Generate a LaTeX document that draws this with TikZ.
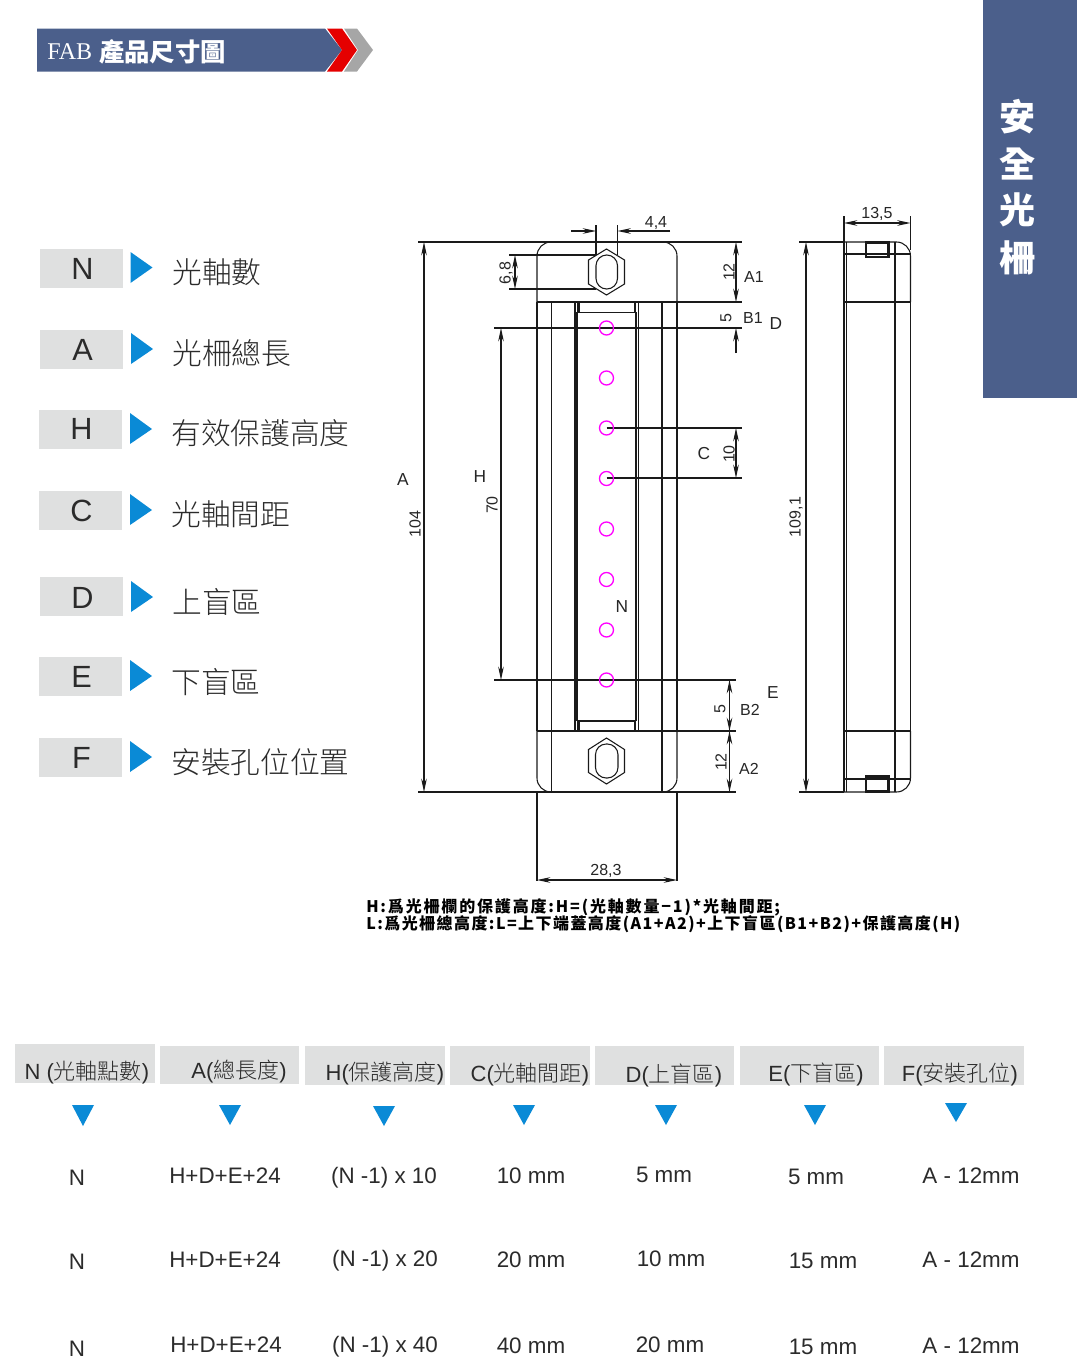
\documentclass[tikz,border=0pt]{standalone}
\usepackage{fontspec}
\usepackage[HTML]{xcolor}
\usetikzlibrary{arrows.meta}
\setmainfont{Liberation Sans}
\newfontfamily\cjk{Noto Sans CJK TC}
\newfontfamily\cjklight{Noto Sans CJK TC Light}
\newfontfamily\notefont[LetterSpace=9]{Noto Sans CJK TC}
\newfontfamily\banserif{Liberation Serif}
\definecolor{banblue}{HTML}{4B5F8B}
\definecolor{tipblue}{HTML}{0A8AD6}
\definecolor{boxgrey}{HTML}{DFE0E0}
\definecolor{inktext}{HTML}{2B2B2B}

\tikzset{
  part/.style={draw=black!90, line width=0.8pt},
  thickpart/.style={draw=black!90, line width=1.8pt},
  extline/.style={draw=black!90, line width=0.8pt},
  dimboth/.style={draw=black!90, line width=0.8pt, {Stealth[length=10pt,width=4.2pt]}-{Stealth[length=10pt,width=4.2pt]}},
  dimend/.style={draw=black!90, line width=0.8pt, -{Stealth[length=10pt,width=4.2pt]}},
  beam/.style={draw=magenta, line width=1pt},
  dimtext/.style={font=\fontsize{12}{12}\selectfont, inner sep=0pt, yshift=-0.75pt, text=black!85},
  dimletter/.style={font=\fontsize{13}{13}\selectfont, inner sep=0pt, yshift=-0.75pt, text=black!85},
  keybox/.style={fill=boxgrey},
  keyletter/.style={font=\fontsize{23}{23}\selectfont, inner sep=0pt, yshift=-0.75pt, text=inktext},
  keytext/.style={font=\cjklight\fontsize{22.3}{22.3}\selectfont, anchor=west, inner sep=0pt, yshift=-0.75pt, text=inktext},
  headtext/.style={font=\fontsize{16.5}{16.5}\selectfont, inner sep=0pt, yshift=-1.2pt, text=inktext},
  celltext/.style={font=\fontsize{16.8}{16.8}\selectfont, inner sep=0pt, yshift=-0.75pt, text=inktext},
  tip/.style={fill=tipblue},
  notetext/.style={font=\notefont\bfseries\fontsize{12}{12}\selectfont, anchor=west, inner sep=0pt, text=black}
}

\begin{document}
\begin{tikzpicture}[x=0.75pt, y=-0.75pt]
\useasboundingbox (0,0) rectangle (1077,1368);

\fill[banblue] (37,28.5)--(325,28.5)--(342,50)--(325,71.5)--(37,71.5)--cycle;
\fill[red!90!black] (327,28.5)--(342,28.5)--(357,50)--(342,71.5)--(327,71.5)--(342,50)--cycle;
\fill[black!35] (344,28.5)--(357,28.5)--(373,50)--(357,71.5)--(344,71.5)--(358,50)--cycle;
\node[anchor=west, inner sep=0pt, text=white, font=\banserif\fontsize{18}{18}\selectfont] (Fab) at (47,51.5) {FAB};
\node[anchor=west, inner sep=0pt, text=white, font=\cjk\bfseries\fontsize{19}{19}\selectfont] (Title) at (99,51.5) {產品尺寸圖};

\fill[banblue] (983,0) rectangle (1077,398);
\node[inner sep=0pt, text=white, font=\cjk\bfseries\fontsize{27}{27}\selectfont] (S1) at (1017,117) {安};
\node[inner sep=0pt, text=white, font=\cjk\bfseries\fontsize{27}{27}\selectfont] (S2) at (1017,164) {全};
\node[inner sep=0pt, text=white, font=\cjk\bfseries\fontsize{27}{27}\selectfont] (S3) at (1017,210) {光};
\node[inner sep=0pt, text=white, font=\cjk\bfseries\fontsize{27}{27}\selectfont] (S4) at (1017,258) {柵};

\fill[keybox] (40,249) rectangle (123,288);
\fill[tip] (130.5,252)--(152.5,267.5)--(130.5,283)--cycle;
\node[keyletter] (KN) at (82.5,268) {N};
\node[keytext] (TN) at (172,271) {光軸數};
\fill[keybox] (40,330) rectangle (123,369);
\fill[tip] (131,333)--(153,349)--(131,364)--cycle;
\node[keyletter] (KA) at (82.5,348.5) {A};
\node[keytext] (TA) at (172,352) {光柵總長};
\fill[keybox] (39,410) rectangle (122,449);
\fill[tip] (130,413)--(152,429)--(130,444)--cycle;
\node[keyletter] (KH) at (81.5,428) {H};
\node[keytext] (TH) at (171,432) {有效保護高度};
\fill[keybox] (39,491) rectangle (122,530);
\fill[tip] (130,494)--(152,510)--(130,525)--cycle;
\node[keyletter] (KC) at (81.5,509.5) {C};
\node[keytext] (TC) at (171,513) {光軸間距};
\fill[keybox] (40,577) rectangle (123,616);
\fill[tip] (131,581)--(153,597)--(131,612)--cycle;
\node[keyletter] (KD) at (82.5,597) {D};
\node[keytext] (TD) at (172,601) {上盲區};
\fill[keybox] (39,657) rectangle (122,696);
\fill[tip] (130,660)--(152,676)--(130,691)--cycle;
\node[keyletter] (KE) at (81.5,675.5) {E};
\node[keytext] (TE) at (171,681) {下盲區};
\fill[keybox] (39,738) rectangle (122,777);
\fill[tip] (130,741)--(152,757)--(130,772)--cycle;
\node[keyletter] (KF) at (81.5,756.5) {F};
\node[keytext] (TF) at (171,761) {安裝孔位位置};

\draw[part, rounded corners=10.5pt] (537,302)--(537,242)--(677,242)--(677,302);
\draw[part, rounded corners=10.5pt] (537,731)--(537,792)--(677,792)--(677,731);
\draw[part] (537,302)--(537,731);
\draw[part] (677,302)--(677,731);
\draw[part] (537,302)--(677,302);
\draw[part] (537,731)--(677,731);
\draw[part] (551.5,302)--(551.5,792);
\draw[part] (662,302)--(662,792);
\draw[part] (575,302)--(575,731);
\draw[part] (577,312)--(577,721);
\draw[part] (636,312)--(636,721);
\draw[part] (638.5,302)--(638.5,731);
\draw[thickpart] (578.5,302)--(578.5,312);
\draw[thickpart] (635,302)--(635,312);
\draw[part] (577,312.5)--(636,312.5);
\draw[thickpart] (578.5,721)--(578.5,731);
\draw[thickpart] (635,721)--(635,731);
\draw[part] (577,721)--(636,721);

\draw[part] (606.5,249)--(624.5,260)--(624.5,284)--(606.5,295)--(588.5,284)--(588.5,260)--cycle;
\draw[part, rounded corners=8pt] (596,255) rectangle (617.5,289);
\draw[part] (606.5,738)--(624.5,749.5)--(624.5,772.5)--(606.5,784)--(588.5,772.5)--(588.5,749.5)--cycle;
\draw[part, rounded corners=8pt] (595.5,744) rectangle (618,778);

\draw[extline] (418,242)--(742,242);
\draw[extline] (418,792)--(736,792);
\draw[extline] (537,302)--(742,302);
\draw[extline] (494,328)--(742,328);
\draw[extline] (494,680)--(736,680);
\draw[extline] (606.5,428)--(742,428);
\draw[extline] (606.5,478)--(742,478);
\draw[extline] (537,731)--(736,731);
\draw[extline] (509,255)--(596,255);
\draw[extline] (509,289)--(596,289);
\draw[extline] (596,225)--(596,255);
\draw[extline] (617.5,225)--(617.5,255);
\draw[extline] (537,792)--(537,881);
\draw[extline] (677,792)--(677,881);

\draw[dimend] (571,231)--(596,231);
\draw[dimend] (670,231)--(617.5,231);
\draw[dimboth] (424,242)--(424,792);
\draw[dimboth] (515,255)--(515,289);
\draw[dimboth] (736,242)--(736,302);
\draw[dimend] (736,353)--(736,328);
\draw[dimboth] (501,328)--(501,680);
\draw[dimboth] (736,428)--(736,478);
\draw[dimboth] (729.5,680)--(729.5,731);
\draw[dimboth] (729.5,731)--(729.5,792);
\draw[dimboth] (537,880)--(677,880);

\draw[beam] (606.5,328) circle[radius=7];
\draw[beam] (606.5,378) circle[radius=7];
\draw[beam] (606.5,428) circle[radius=7];
\draw[beam] (606.5,478.5) circle[radius=7];
\draw[beam] (606.5,529) circle[radius=7];
\draw[beam] (606.5,579.5) circle[radius=7];
\draw[beam] (606.5,630) circle[radius=7];
\draw[beam] (606.5,680) circle[radius=7];

\node[dimtext] (L44) at (656,222) {4,4};
\node[dimtext, rotate=90] (L68) at (506,272) {6,8};
\node[dimtext, rotate=90] (L12a) at (729,271) {12};
\node[dimtext] (LA1) at (754,276) {A1};
\node[dimtext, rotate=90] (L5a) at (726,317) {5};
\node[dimtext] (LB1) at (753,317) {B1};
\node[dimletter] (LD) at (776,323) {D};
\node[dimletter] (LA) at (403,479) {A};
\node[dimtext, rotate=90] (L104) at (415,523) {104};
\node[dimletter] (LH) at (480,476) {H};
\node[dimtext, rotate=90] (L70) at (492,504) {70};
\node[dimletter] (LC) at (704,453) {C};
\node[dimtext, rotate=90] (L10) at (729,453) {10};
\node[dimletter] (LN) at (622,606) {N};
\node[dimletter] (LE) at (773,692) {E};
\node[dimtext, rotate=90] (L5b) at (720,708) {5};
\node[dimtext] (LB2) at (750,709) {B2};
\node[dimtext, rotate=90] (L12b) at (721,761) {12};
\node[dimtext] (LA2) at (749,768) {A2};
\node[dimtext] (L283) at (606,870) {28,3};

\draw[part, rounded corners=10.5pt] (844,242)--(910.5,242)--(910.5,302);
\draw[part, rounded corners=10.5pt] (910.5,731)--(910.5,792)--(844,792);
\draw[part] (844,242)--(844,792);
\draw[part] (846.5,242)--(846.5,792);
\draw[part] (895,242)--(895,792);
\draw[part] (910.5,302)--(910.5,731);
\draw[part] (844,254)--(910.5,254);
\draw[part] (844,302)--(910.5,302);
\draw[part] (844,731)--(910.5,731);
\draw[part] (844,779)--(910.5,779);
\draw[thickpart] (866,242.5) rectangle (888.5,257);
\draw[thickpart] (866,776.5) rectangle (888.5,791.5);

\draw[extline] (799,242)--(844,242);
\draw[extline] (799,792)--(844,792);
\draw[extline] (844,216)--(844,242);
\draw[extline] (910.5,216)--(910.5,250);
\draw[dimboth] (806,242)--(806,792);
\draw[dimboth] (844,223)--(910.5,223);
\node[dimtext] (L135) at (877,213) {13,5};
\node[dimtext, rotate=90] (L1091) at (796,516) {109,1};

\node[notetext] (NoteH) at (366,907) {\addfontfeature{LetterSpace=11.5}H:爲光柵欄的保護高度:H=(光軸數量−1)*光軸間距;};
\node[notetext] (NoteL) at (366,924) {L:爲光柵總高度:L=上下端蓋高度(A1+A2)+上下盲區(B1+B2)+保護高度(H)};

\fill[keybox] (15,1044) rectangle (155,1083);
\fill[keybox] (160,1046) rectangle (299,1084);
\fill[keybox] (305,1046) rectangle (445,1085);
\fill[keybox] (450,1046) rectangle (590,1085);
\fill[keybox] (595,1046) rectangle (734,1085);
\fill[keybox] (740,1046) rectangle (879,1085);
\fill[keybox] (884,1046) rectangle (1024,1085);
\node[headtext] (HN) at (87,1071) {N ({\cjklight 光軸點數})};
\node[headtext] (HA) at (239,1070) {A({\cjklight 總長度})};
\node[headtext] (HH) at (385,1072) {H({\cjklight 保護高度})};
\node[headtext] (HC) at (530,1073) {C({\cjklight 光軸間距})};
\node[headtext] (HD) at (674,1074) {D({\cjklight 上盲區})};
\node[headtext] (HE) at (816,1073) {E({\cjklight 下盲區})};
\node[headtext] (HF) at (960,1073) {F({\cjklight 安裝孔位})};

\fill[tip] (72,1105)--(94,1105)--(83,1126)--cycle;
\fill[tip] (219,1105)--(241,1105)--(230,1125)--cycle;
\fill[tip] (373,1106)--(395,1106)--(384,1126)--cycle;
\fill[tip] (513,1105)--(535,1105)--(524,1125)--cycle;
\fill[tip] (655,1105)--(677,1105)--(666,1125)--cycle;
\fill[tip] (804,1105)--(826,1105)--(815,1125)--cycle;
\fill[tip] (945,1103)--(967,1103)--(956,1122)--cycle;

\node[celltext] (N1) at (77,1177) {N};
\node[celltext] (A1) at (225,1175) {H+D+E+24};
\node[celltext] (H1) at (384,1177) {(N -1) x 10};
\node[celltext] (C1) at (531,1175) {10 mm};
\node[celltext] (D1) at (664,1174) {5 mm};
\node[celltext] (E1) at (816,1176) {5 mm};
\node[celltext] (F1) at (971,1175) {A - 12mm};
\node[celltext] (N2) at (77,1261) {N};
\node[celltext] (A2) at (225,1259) {H+D+E+24};
\node[celltext] (H2) at (385,1260) {(N -1) x 20};
\node[celltext] (C2) at (531,1259) {20 mm};
\node[celltext] (D2) at (671,1258) {10 mm};
\node[celltext] (E2) at (823,1260) {15 mm};
\node[celltext] (F2) at (971,1259) {A - 12mm};
\node[celltext] (N3) at (77,1348) {N};
\node[celltext] (A3) at (226,1344) {H+D+E+24};
\node[celltext] (H3) at (385,1346) {(N -1) x 40};
\node[celltext] (C3) at (531,1345) {40 mm};
\node[celltext] (D3) at (670,1344) {20 mm};
\node[celltext] (E3) at (823,1346) {15 mm};
\node[celltext] (F3) at (971,1345) {A - 12mm};
\end{tikzpicture}
\end{document}
